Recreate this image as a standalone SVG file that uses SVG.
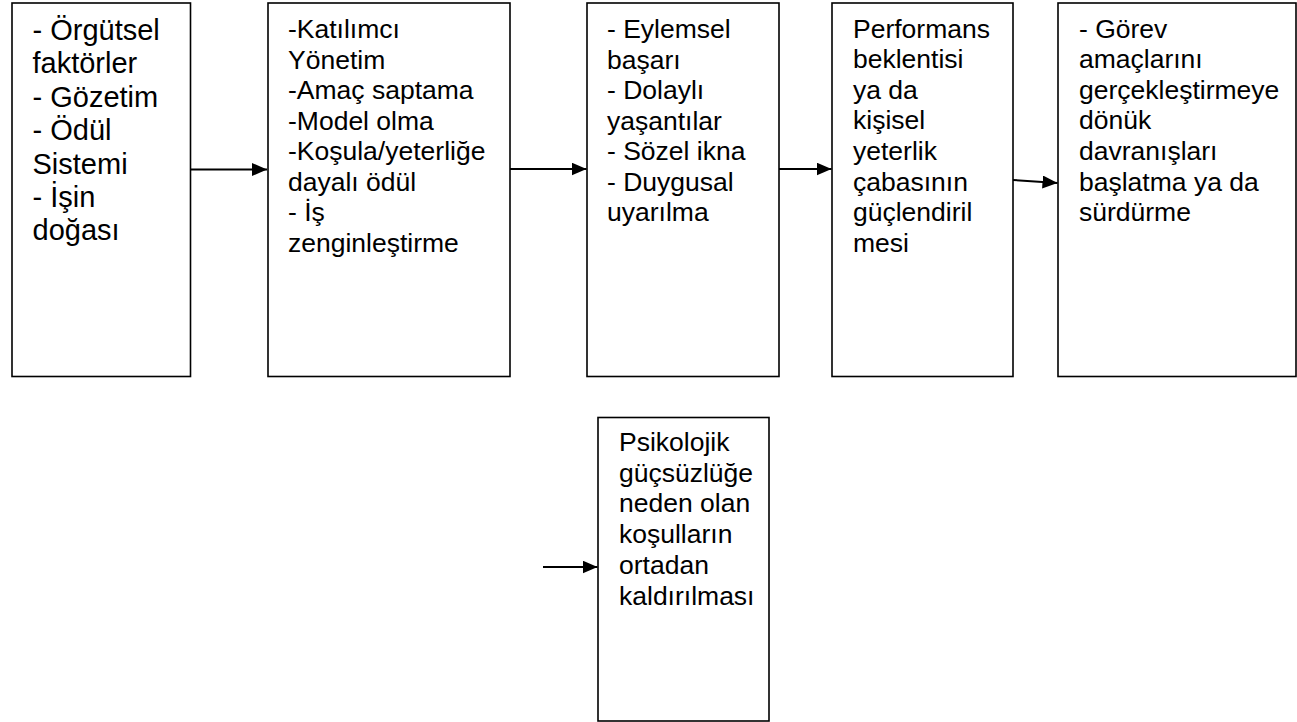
<svg xmlns="http://www.w3.org/2000/svg" width="1297" height="722" viewBox="0 0 1297 722">
  <style>
    .box { fill: #ffffff; stroke: #000000; stroke-width: 1.6; }
    .lbl { font-family: "Liberation Sans", Arial, sans-serif; fill: #000000; }
    .big { font-size: 29px; }
    .mid { font-size: 26.5px; }
    .link { stroke: #000000; stroke-width: 2; fill: none; }
  </style>
  <defs>
    <marker id="head" markerUnits="userSpaceOnUse" markerWidth="16" markerHeight="14" refX="15" refY="6.5" orient="auto">
      <path d="M0,0 L15,6.5 L0,13 z" fill="#000000"/>
    </marker>
  </defs>
  <rect width="1297" height="722" fill="#ffffff"/>

  <!-- organisational factors -->
  <g id="factors">
    <rect class="box" x="12" y="3" width="178.5" height="373.5"/>
    <text class="lbl big" x="32.5" y="40">
      <tspan x="32.5">- Örgütsel</tspan>
      <tspan x="32.5" dy="33.4">faktörler</tspan>
      <tspan x="32.5" dy="33.4">- Gözetim</tspan>
      <tspan x="32.5" dy="33.4">- Ödül</tspan>
      <tspan x="32.5" dy="33.4">Sistemi</tspan>
      <tspan x="32.5" dy="33.4">- İşin</tspan>
      <tspan x="32.5" dy="33.4">doğası</tspan>
    </text>
  </g>

  <!-- management techniques -->
  <g id="techniques">
    <rect class="box" x="268" y="3" width="242" height="373.5"/>
    <text class="lbl mid" x="288" y="38">
      <tspan x="288">-Katılımcı</tspan>
      <tspan x="288" dy="30.5">Yönetim</tspan>
      <tspan x="288" dy="30.5">-Amaç saptama</tspan>
      <tspan x="288" dy="30.5">-Model olma</tspan>
      <tspan x="288" dy="30.5">-Koşula/yeterliğe</tspan>
      <tspan x="288" dy="30.5">dayalı ödül</tspan>
      <tspan x="288" dy="30.5">- İş</tspan>
      <tspan x="288" dy="30.5">zenginleştirme</tspan>
    </text>
  </g>

  <!-- information sources -->
  <g id="sources">
    <rect class="box" x="587" y="3" width="192" height="373.5"/>
    <text class="lbl mid" x="607" y="38">
      <tspan x="607">- Eylemsel</tspan>
      <tspan x="607" dy="30.5">başarı</tspan>
      <tspan x="607" dy="30.5">- Dolaylı</tspan>
      <tspan x="607" dy="30.5">yaşantılar</tspan>
      <tspan x="607" dy="30.5">- Sözel ikna</tspan>
      <tspan x="607" dy="30.5">- Duygusal</tspan>
      <tspan x="607" dy="30.5">uyarılma</tspan>
    </text>
  </g>

  <!-- self-efficacy -->
  <g id="efficacy">
    <rect class="box" x="832" y="3" width="181" height="373.5"/>
    <text class="lbl mid" x="853" y="37.5">
      <tspan x="853">Performans</tspan>
      <tspan x="853" dy="30.6">beklentisi</tspan>
      <tspan x="853" dy="30.6">ya da</tspan>
      <tspan x="853" dy="30.6">kişisel</tspan>
      <tspan x="853" dy="30.6">yeterlik</tspan>
      <tspan x="853" dy="30.6">çabasının</tspan>
      <tspan x="853" dy="30.6">güçlendiril</tspan>
      <tspan x="853" dy="30.6">mesi</tspan>
    </text>
  </g>

  <!-- behavioural outcome -->
  <g id="behaviour">
    <rect class="box" x="1058" y="3" width="238" height="373.5"/>
    <text class="lbl mid" x="1079" y="37.5">
      <tspan x="1079">- Görev</tspan>
      <tspan x="1079" dy="30.6">amaçlarını</tspan>
      <tspan x="1079" dy="30.6">gerçekleştirmeye</tspan>
      <tspan x="1079" dy="30.6">dönük</tspan>
      <tspan x="1079" dy="30.6">davranışları</tspan>
      <tspan x="1079" dy="30.6">başlatma ya da</tspan>
      <tspan x="1079" dy="30.6">sürdürme</tspan>
    </text>
  </g>

  <!-- removal of powerlessness conditions -->
  <g id="removal">
    <rect class="box" x="598" y="417.5" width="171" height="303.5"/>
    <text class="lbl mid" x="619" y="451">
      <tspan x="619">Psikolojik</tspan>
      <tspan x="619" dy="30.7">güçsüzlüğe</tspan>
      <tspan x="619" dy="30.7">neden olan</tspan>
      <tspan x="619" dy="30.7">koşulların</tspan>
      <tspan x="619" dy="30.7">ortadan</tspan>
      <tspan x="619" dy="30.7">kaldırılması</tspan>
    </text>
  </g>

  <g id="connectors">
    <line class="link" x1="190.5" y1="169.5" x2="267" y2="169.5" marker-end="url(#head)"/>
    <line class="link" x1="510" y1="169" x2="586.5" y2="169" marker-end="url(#head)"/>
    <line class="link" x1="779" y1="169" x2="831.5" y2="169" marker-end="url(#head)"/>
    <line class="link" x1="1013" y1="180" x2="1057.5" y2="183" marker-end="url(#head)"/>
    <line class="link" x1="543" y1="567" x2="597.5" y2="567" marker-end="url(#head)"/>
  </g>
</svg>
